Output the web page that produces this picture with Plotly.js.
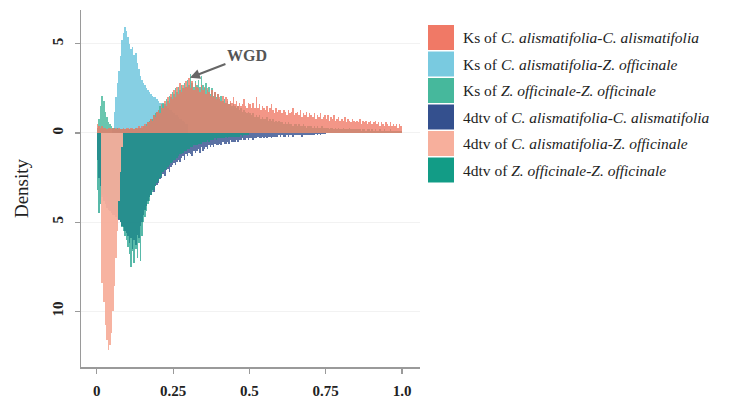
<!DOCTYPE html>
<html>
<head>
<meta charset="utf-8">
<script src="https://cdn.plot.ly/plotly-3.0.1.min.js"></script>
<style>html,body{margin:0;padding:0;background:#fff;}#chart{width:748px;height:400px;}</style>
</head>
<body>
<div id="chart"></div>
<script>
// bin width of the histograms
var binWidth = 0.005;

// Ks of C. alismatifolia - C. alismatifolia (start 0)
var ksCaCaStart = 0;
var ksCaCa = [
0.5,0.4,0.3,0.4,0.3,0.3,0.2,0.3,0.3,0.2,
0.3,0.2,0.3,0.2,0.3,0.2,0.2,0.3,0.2,0.3,
0.3,0.2,0.3,0.3,0.2,0.3,0.3,0.4,0.3,0.4,
0.4,0.5,0.4,0.6,0.6,0.8,0.7,1.0,0.9,1.2,
1.3,1.1,1.6,1.4,1.8,1.5,2.0,1.7,2.2,1.9,
2.4,2.0,2.6,2.2,2.8,2.3,2.7,2.5,2.9,2.6,
3.1,2.5,2.9,2.4,2.8,2.6,2.5,2.3,2.7,2.4,
2.6,2.2,2.5,2.3,2.1,2.4,2.0,2.3,1.9,2.2,
2.0,1.8,2.1,1.7,2.0,1.9,1.6,1.8,1.7,2.0,
1.6,1.8,1.5,1.7,1.5,1.6,1.9,1.5,1.4,1.7,
1.6,1.4,1.7,1.4,2.0,1.4,1.6,1.3,1.5,1.4,
1.3,1.5,1.2,1.4,1.6,1.3,1.1,1.4,1.2,1.3,
1.3,1.1,1.3,1.2,1.0,1.3,1.1,1.2,1.4,1.0,
1.1,1.2,1.0,1.3,0.9,1.1,1.0,1.2,0.9,1.1,
1.0,0.9,1.1,0.8,1.0,0.9,1.1,0.8,0.9,1.0,
0.8,1.0,0.7,0.9,0.8,1.0,0.7,0.8,0.9,0.7,
0.8,0.7,0.9,0.6,0.8,0.7,0.6,0.8,0.7,0.6,
0.7,0.6,0.8,0.5,0.7,0.6,0.7,0.5,0.6,0.7,
0.5,0.6,0.7,0.5,0.6,0.4,0.6,0.5,0.4,0.6,
0.5,0.4,0.6,0.4,0.5,0.4,0.5,0.3,0.5,0.4
];

// Ks of C. alismatifolia - Z. officinale (start 0.05)
var ksCaZoStart = 0.05;
var ksCaZo = [
0.3,1.2,2.0,2.8,3.5,4.3,5.2,5.6,5.95,5.7,
5.4,5.0,4.7,4.8,4.4,4.5,3.9,3.6,3.2,3.0,
2.8,2.7,2.5,2.4,2.3,2.2,2.1,2.0,2.0,1.9,
1.8,1.7,1.7,1.6,1.5,1.5,1.4,1.3,1.3,1.2,
1.1,1.0,1.0,0.9,0.8,0.8,0.7,0.6,0.5,0.5
];

// Ks of Z. officinale - Z. officinale (start 0)
var ksZoZoStart = 0;
var ksZoZo = [
0.3,0.8,1.5,2.1,1.8,1.2,0.9,0.6,0.5,0.4,
0.3,0.3,0.2,0.3,0.2,0.2,0.2,0.2,0.2,0.2,
0.2,0.2,0.2,0.2,0.2,0.3,0.2,0.3,0.3,0.3,
0.4,0.4,0.5,0.6,0.7,0.8,0.8,1.0,1.1,1.2,
1.3,1.5,1.4,1.7,1.6,1.9,1.8,2.1,2.0,2.3,
2.2,2.5,2.3,2.6,2.4,2.7,2.5,2.8,2.6,3.0,
2.7,3.3,2.8,2.6,2.9,2.7,3.0,2.6,3.2,2.7,
2.5,2.8,2.4,2.6,2.2,2.5,2.1,2.3,2.0,2.2,
1.9,2.1,1.8,1.9,1.7,1.8,1.6,1.7,1.5,1.6,
1.5,1.4,1.5,1.3,1.4,1.2,1.3,1.2,1.1,1.2,
1.1,1.0,1.1,0.9,1.0,0.9,1.0,0.8,0.9,0.8,
0.8,0.9,0.7,0.8,0.7,0.8,0.6,0.7,0.6,0.7,
0.6,0.6,0.5,0.6,0.5,0.6,0.5,0.5,0.4,0.5,
0.5,0.4,0.5,0.4,0.4,0.5,0.4,0.3,0.4,0.4,
0.4,0.3,0.4,0.3,0.4,0.3,0.3,0.4,0.3,0.3,
0.3,0.3,0.2,0.3,0.3,0.2,0.3,0.2,0.3,0.2,
0.2,0.3,0.2,0.2,0.2,0.3,0.2,0.2,0.2,0.2,
0.2,0.2,0.2,0.1,0.2,0.2,0.1,0.2,0.2,0.1,
0.2,0.1,0.2,0.1,0.1,0.2,0.1,0.1,0.2,0.1,
0.1,0.1,0.2,0.1,0.1,0.1,0.1,0.1,0.1,0.1
];

// 4dtv of C. alismatifolia - C. alismatifolia (start 0), drawn downward
var dtvCaCaStart = 0;
var dtvCaCa = [
1.5,2.5,3.0,3.5,3.8,4.0,4.2,4.3,4.4,4.5,
4.6,4.6,4.7,4.8,4.9,5.0,5.2,5.3,5.5,5.6,
5.8,6.2,5.9,6.5,6.0,6.3,5.7,5.9,5.2,5.0,
4.6,4.3,4.1,3.8,3.6,3.5,3.2,3.3,3.0,2.9,
2.8,2.6,2.5,2.3,2.4,2.1,2.0,2.2,1.9,1.8,
1.7,1.8,1.6,1.5,1.6,1.4,1.3,1.5,1.2,1.3,
1.1,1.2,1.3,1.0,1.1,1.0,0.9,1.1,0.8,1.0,
0.9,0.8,0.9,0.7,0.8,0.7,0.8,0.6,0.7,0.7,
0.6,0.7,0.5,0.6,0.6,0.5,0.6,0.4,0.5,0.5,
0.5,0.4,0.5,0.4,0.4,0.3,0.4,0.4,0.3,0.4,
0.3,0.3,0.4,0.3,0.3,0.2,0.3,0.3,0.2,0.3,
0.2,0.3,0.2,0.2,0.3,0.2,0.2,0.2,0.2,0.1,
0.2,0.1,0.2,0.2,0.1,0.2,0.1,0.1,0.2,0.1,
0.1,0.1,0.1,0.1,0.2,0.1,0.1,0.1,0.1,0.1,
0.1,0.1,0.1,0.05,0.1,0.05,0.1,0.05,0.05,0.05
];

// 4dtv of C. alismatifolia - Z. officinale (start 0.015), drawn downward
var dtvCaZoStart = 0.015;
var dtvCaZo = [8.4,9.5,10.8,11.6,12.2,11.9,11.2,10.0,8.6,7.0,5.5,3.8,2.2,0.8];

// 4dtv of Z. officinale - Z. officinale (start 0), drawn downward
var dtvZoZoStart = 0;
var dtvZoZo = [
3.2,4.5,4.0,3.6,3.4,3.5,3.6,3.8,3.9,4.0,
4.1,4.3,4.4,4.6,4.8,5.0,5.3,5.5,5.8,6.0,
6.4,6.8,7.5,6.6,7.3,6.5,7.0,6.2,7.2,5.8,
5.0,4.7,4.4,4.0,3.8,3.5,3.3,3.2,3.0,2.8,
2.7,2.5,2.4,2.2,2.1,2.0,1.9,1.8,1.7,1.6,
1.5,1.5,1.4,1.3,1.2,1.2,1.1,1.0,1.0,0.9,
0.9,0.8,0.8,0.7,0.7,0.7,0.6,0.6,0.6,0.5,
0.5,0.5,0.4,0.5,0.4,0.4,0.4,0.3,0.4,0.3,
0.3,0.3,0.3,0.3,0.2,0.3,0.2,0.2,0.2,0.2,
0.2,0.2,0.2,0.2,0.1,0.2,0.1,0.1,0.1,0.1
];

var legendLabels = [
  'Ks of <i>C. alismatifolia-C. alismatifolia</i>',
  'Ks of <i>C. alismatifolia-Z. officinale</i>',
  'Ks of <i>Z. officinale-Z. officinale</i>',
  '4dtv of <i>C. alismatifolia-C. alismatifolia</i>',
  '4dtv of <i>C. alismatifolia-Z. officinale</i>',
  '4dtv of <i>Z. officinale-Z. officinale</i>'
];
var colors = ['#F07966', '#79CAE0', '#46B89C', '#34508E', '#F7AF9C', '#129C86'];

var xTickVals = [0, 0.25, 0.5, 0.75, 1.0];
var xTickText = ['0', '0.25', '0.5', '0.75', '1.0'];
var yTickVals = [-10, -5, 0, 5];
var yTickText = ['10', '5', '0', '5'];

function centers(start, vals) {
  return vals.map(function (v, i) { return start + (i + 0.5) * binWidth; });
}
function neg(vals) { return vals.map(function (v) { return -v; }); }

function barTrace(start, vals, color, op, down) {
  return {
    type: 'bar', x: centers(start, vals), y: down ? neg(vals) : vals,
    width: binWidth, marker: {color: color, line: {width: 0}},
    opacity: op, showlegend: false, hoverinfo: 'skip'
  };
}

var data = [
  barTrace(ksCaZoStart, ksCaZo, colors[1], 0.9, false),
  barTrace(ksZoZoStart, ksZoZo, colors[2], 0.8, false),
  barTrace(ksCaCaStart, ksCaCa, colors[0], 0.78, false),
  barTrace(dtvCaCaStart, dtvCaCa, colors[3], 0.8, true),
  barTrace(dtvZoZoStart, dtvZoZo, colors[5], 0.7, true),
  barTrace(dtvCaZoStart, dtvCaZo, colors[4], 0.95, true)
];

var plotTop = 10, plotBottom = 367;
var plotH = plotBottom - plotTop;
function py(p) { return (plotBottom - p) / plotH; }

var shapes = [], annotations = [];
legendLabels.forEach(function (lab, i) {
  var top = 25 + i * 26.5;
  shapes.push({type: 'rect', xref: 'paper', yref: 'paper',
    x0: (428 - 81) / 339, x1: (454 - 81) / 339,
    y0: py(top + 25), y1: py(top), fillcolor: colors[i], line: {width: 0}});
  annotations.push({xref: 'paper', yref: 'paper', x: (461 - 81) / 339, y: py(top + 12.5),
    xanchor: 'left', yanchor: 'middle', showarrow: false, text: lab,
    font: {family: 'Liberation Serif, serif', size: 15.5, color: '#222'}});
});
annotations.push({
  x: 0.305, y: 3.1, xref: 'x', yref: 'y', text: '<b>WGD</b>',
  showarrow: true, arrowhead: 2, arrowsize: 1, arrowwidth: 2, arrowcolor: '#666',
  ax: 57, ay: -22,
  font: {family: 'Liberation Serif, serif', size: 16, color: '#555'}
});

var layout = {
  width: 748, height: 400,
  margin: {l: 81, r: 328, t: plotTop, b: 400 - plotBottom},
  paper_bgcolor: '#fff', plot_bgcolor: '#fff',
  barmode: 'overlay', bargap: 0,
  xaxis: {
    range: [-0.052, 1.059], tickvals: xTickVals, ticktext: xTickText,
    showgrid: false, zeroline: false, showline: true, linecolor: '#9a9a9a', linewidth: 1.5,
    ticks: 'outside', ticklen: 5, tickcolor: '#9a9a9a', tickwidth: 1.2,
    ticklabelstandoff: 4,
    tickfont: {family: 'Liberation Serif, serif', size: 15, color: '#222', weight: 'bold'}
  },
  yaxis: {
    range: [-13.13, 6.9], tickvals: yTickVals, ticktext: yTickText, tickangle: -90,
    showgrid: true, gridcolor: '#f2f2f2', zeroline: false,
    showline: true, linecolor: '#9a9a9a', linewidth: 1.5,
    ticks: 'outside', ticklen: 5, tickcolor: '#9a9a9a', tickwidth: 1.2,
    ticklabelstandoff: 6,
    tickfont: {family: 'Liberation Serif, serif', size: 15, color: '#222', weight: 'bold'},
    title: {text: 'Density', standoff: 16, font: {family: 'Liberation Serif, serif', size: 19, color: '#222'}}
  },
  shapes: shapes,
  annotations: annotations
};

Plotly.newPlot('chart', data, layout, {displayModeBar: false, staticPlot: true});
</script>
</body>
</html>
